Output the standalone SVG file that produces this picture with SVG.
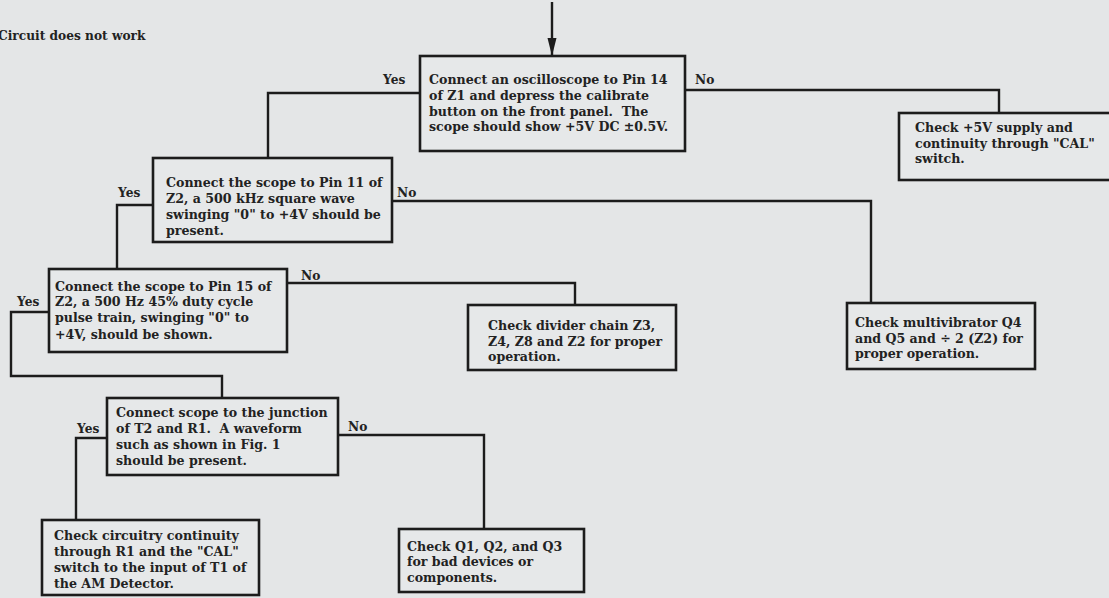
<svg xmlns="http://www.w3.org/2000/svg" width="1109" height="598" viewBox="0 0 1109 598">
<style>
.bg{fill:#e4e6e7}
.box rect{fill:#e6e8e9;stroke:#1c1c1c;stroke-width:2.6}
.t{font-family:"DejaVu Serif","Liberation Serif",serif;font-weight:bold;font-size:12.6px;fill:#222;white-space:pre}
.lbl{font-family:"DejaVu Serif","Liberation Serif",serif;font-weight:bold;font-size:12.2px;fill:#222}
.conn path{fill:none;stroke:#1c1c1c;stroke-width:2.4}
</style>
<defs>
<marker id="ah" markerWidth="18" markerHeight="10" refX="17" refY="5" orient="auto" markerUnits="userSpaceOnUse" viewBox="0 0 18 10">
<path d="M0 0.5 L18 5 L0 9.5 Z" fill="#1c1c1c"/>
</marker>
</defs>
<rect class="bg" x="0" y="0" width="1109" height="598"/>
<text class="lbl" x="-2" y="40">Circuit does not work</text>
<g class="conn" id="connectors">
<path d="M552 2 V55" marker-end="url(#ah)"/>
<path d="M420 93 H268 V158"/>
<path d="M685 90 H999 V113"/>
<path d="M153 205 H117 V269"/>
<path d="M392 201 H871 V303"/>
<path d="M287 283 H575 V305"/>
<path d="M49 312 H11 V376 H222 V398"/>
<path d="M107 438 H76 V520"/>
<path d="M338 435 H484 V529"/>
</g>
<g id="labels">
<text class="lbl" x="383" y="84">Yes</text>
<text class="lbl" x="695" y="84">No</text>
<text class="lbl" x="118" y="197">Yes</text>
<text class="lbl" x="397" y="197">No</text>
<text class="lbl" x="301" y="280">No</text>
<text class="lbl" x="17" y="306">Yes</text>
<text class="lbl" x="77" y="433">Yes</text>
<text class="lbl" x="348" y="431">No</text>
</g>
<g class="box" id="n1">
<rect x="420" y="56" width="265" height="95"/>
<text class="t" x="429" y="84">Connect an oscilloscope to Pin 14</text>
<text class="t" x="429" y="100">of Z1 and depress the calibrate</text>
<text class="t" x="429" y="116">button on the front panel.  The</text>
<text class="t" x="429" y="131">scope should show +5V DC ±0.5V.</text>
</g>
<g class="box" id="n2">
<rect x="153" y="158" width="239" height="84"/>
<text class="t" x="166" y="187">Connect the scope to Pin 11 of</text>
<text class="t" x="166" y="203">Z2, a 500 kHz square wave</text>
<text class="t" x="166" y="219">swinging "0" to +4V should be</text>
<text class="t" x="166" y="235">present.</text>
</g>
<g class="box" id="n3">
<rect x="899" y="113" width="212" height="67"/>
<text class="t" x="915" y="132">Check +5V supply and</text>
<text class="t" x="915" y="148">continuity through "CAL"</text>
<text class="t" x="915" y="163">switch.</text>
</g>
<g class="box" id="n4">
<rect x="49" y="269" width="238" height="83"/>
<text class="t" x="55" y="291">Connect the scope to Pin 15 of</text>
<text class="t" x="55" y="306">Z2, a 500 Hz 45% duty cycle</text>
<text class="t" x="55" y="322">pulse train, swinging "0" to</text>
<text class="t" x="55" y="339">+4V, should be shown.</text>
</g>
<g class="box" id="n5">
<rect x="468" y="305" width="208" height="65"/>
<text class="t" x="488" y="330">Check divider chain Z3,</text>
<text class="t" x="488" y="346">Z4, Z8 and Z2 for proper</text>
<text class="t" x="488" y="361">operation.</text>
</g>
<g class="box" id="n6">
<rect x="847" y="303" width="188" height="66"/>
<text class="t" x="855" y="327">Check multivibrator Q4</text>
<text class="t" x="855" y="343">and Q5 and ÷ 2 (Z2) for</text>
<text class="t" x="855" y="358">proper operation.</text>
</g>
<g class="box" id="n7">
<rect x="107" y="398" width="231" height="77"/>
<text class="t" x="116" y="417">Connect scope to the junction</text>
<text class="t" x="116" y="433">of T2 and R1.  A waveform</text>
<text class="t" x="116" y="449">such as shown in Fig. 1</text>
<text class="t" x="116" y="465">should be present.</text>
</g>
<g class="box" id="n8">
<rect x="42" y="520" width="217" height="75"/>
<text class="t" x="54" y="540">Check circuitry continuity</text>
<text class="t" x="54" y="556">through R1 and the "CAL"</text>
<text class="t" x="54" y="572">switch to the input of T1 of</text>
<text class="t" x="54" y="588">the AM Detector.</text>
</g>
<g class="box" id="n9">
<rect x="399" y="529" width="185" height="63"/>
<text class="t" x="407" y="551">Check Q1, Q2, and Q3</text>
<text class="t" x="407" y="566">for bad devices or</text>
<text class="t" x="407" y="582">components.</text>
</g>
</svg>
